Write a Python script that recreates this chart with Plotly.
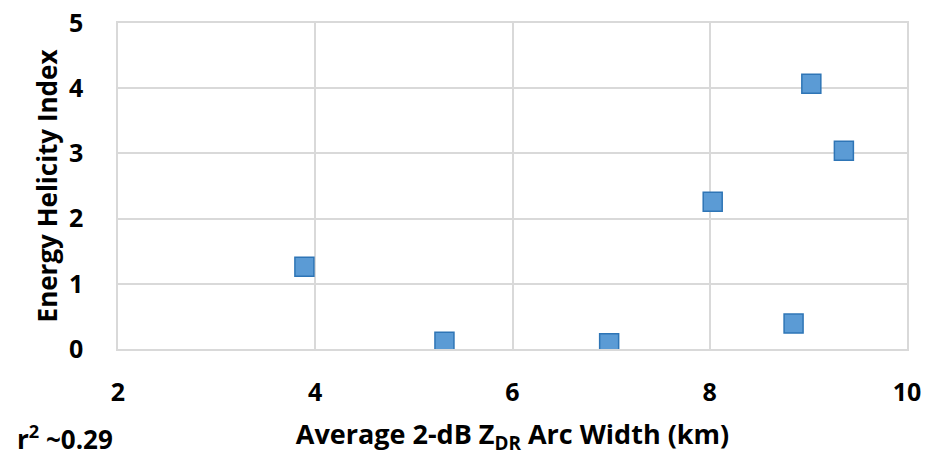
import plotly.graph_objects as go

# Average 2-dB ZDR arc width (km) vs. energy helicity index
arc_width_km = [3.89, 5.31, 6.98, 8.03, 8.85, 9.03, 9.36]
ehi = [1.26, 0.11, 0.09, 2.26, 0.39, 4.07, 3.04]

x_ticks = [2, 4, 6, 8, 10]
y_ticks = [0, 1, 2, 3, 4, 5]

FONT = "Open Sans"
GRID = "#d9d9d9"

fig = go.Figure(
    go.Scatter(
        x=arc_width_km,
        y=ehi,
        mode="markers",
        marker=dict(
            symbol="square",
            size=19,
            color="#5b9bd5",
            line=dict(color="#2e75b6", width=1.5),
        ),
        showlegend=False,
    )
)

fig.update_layout(
    width=927,
    height=456,
    margin=dict(l=118, r=20, t=23, b=107),
    paper_bgcolor="white",
    plot_bgcolor="white",
    font=dict(family=FONT, color="#000000"),
)

fig.update_xaxes(
    range=[2, 10],
    tickvals=x_ticks,
    tickfont=dict(family=FONT, size=25, color="#000000", weight="bold"),
    showgrid=True,
    gridcolor=GRID,
    gridwidth=1.5,
    showline=True,
    linecolor=GRID,
    linewidth=1.5,
    mirror=True,
    zeroline=False,
    ticks="",
    automargin=False,
    ticklabelstandoff=20,
    title=dict(
        text="Average 2-dB Z<sub>DR</sub> Arc Width (km)",
        font=dict(family=FONT, size=27, color="#000000", weight="bold"),
        standoff=20,
    ),
)

fig.update_yaxes(
    range=[0, 5],
    tickvals=y_ticks,
    tickfont=dict(family=FONT, size=25, color="#000000", weight="bold"),
    showgrid=True,
    gridcolor=GRID,
    gridwidth=1.5,
    showline=True,
    linecolor=GRID,
    linewidth=1.5,
    mirror=True,
    zeroline=False,
    ticks="",
    automargin=False,
    ticklabelstandoff=28,
    title=dict(
        text="Energy Helicity Index",
        font=dict(family=FONT, size=26, color="#000000", weight="bold"),
        standoff=4,
    ),
)

fig.add_annotation(
    text="r<sup>2</sup> ~0.29",
    xref="paper",
    yref="paper",
    x=-0.13,
    y=-0.2715,
    xanchor="left",
    yanchor="middle",
    showarrow=False,
    font=dict(family=FONT, size=26, color="#000000", weight="bold"),
)

fig.write_html("out.html")
